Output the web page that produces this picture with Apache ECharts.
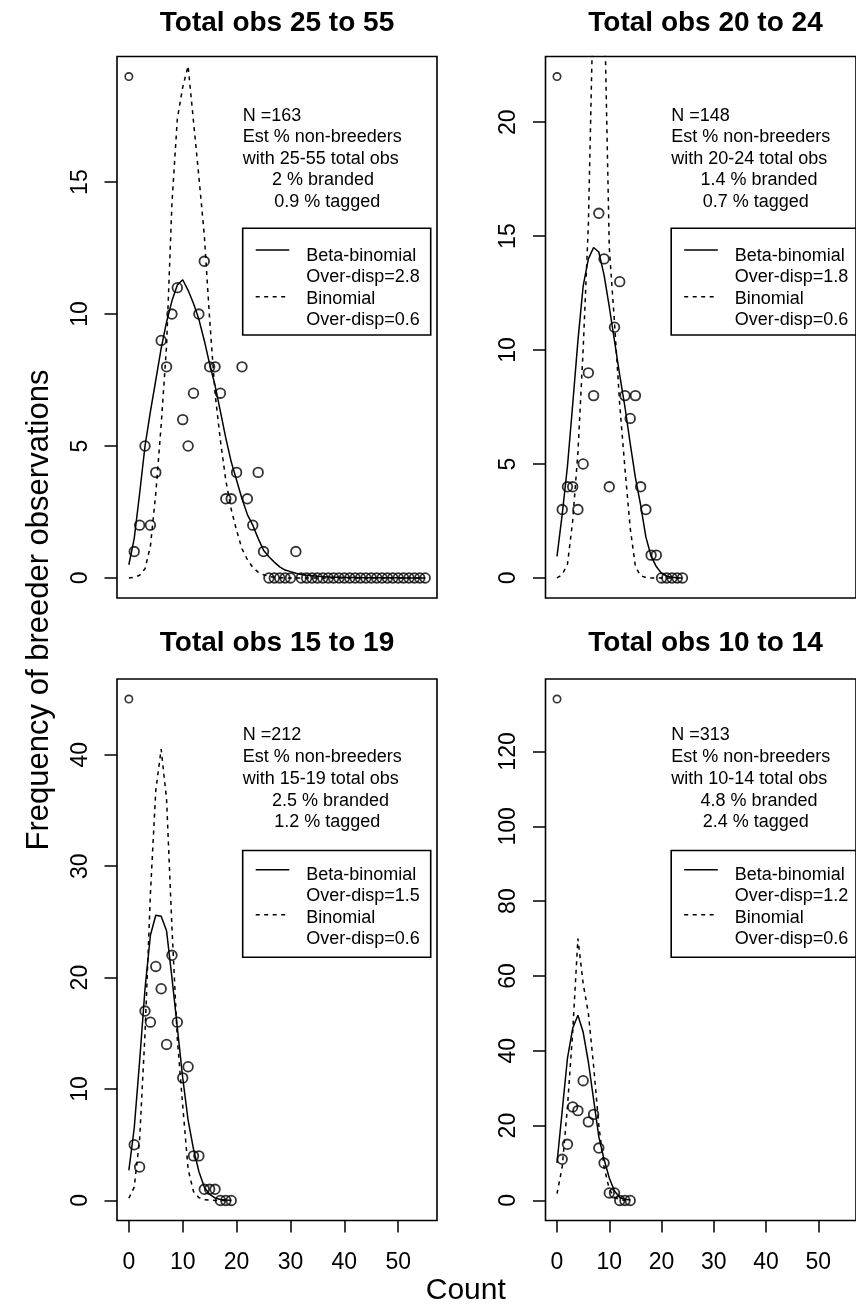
<!DOCTYPE html>
<html>
<head>
<meta charset="utf-8">
<title>Frequency of breeder observations</title>
<script src="https://cdn.jsdelivr.net/npm/echarts@6/dist/echarts.min.js"></script>
<style>
  html, body { margin: 0; padding: 0; background: #fff; }
  #chart { width: 856px; height: 1305px; }
</style>
</head>
<body>
<div id="chart"></div>
<script>
// --- data: index = count (0..max) ---
const panelTitles = ["Total obs 25 to 55", "Total obs 20 to 24", "Total obs 15 to 19", "Total obs 10 to 14"];

const counts25to55 = [19, 1, 2, 5, 2, 4, 9, 8, 10, 11, 6, 5, 7, 10, 12, 8, 8, 7, 3, 3, 4, 8, 3, 2, 4, 1, 0, 0, 0, 0,
  0, 1, 0, 0, 0, 0, 0, 0, 0, 0, 0, 0, 0, 0, 0, 0, 0, 0, 0, 0, 0, 0, 0, 0, 0, 0];
const betaBin25to55 = [0.5, 1.5, 3.2, 5.0, 6.3, 7.5, 8.7, 9.7, 10.5, 11.1, 11.3, 10.9, 10.4, 9.8, 9.0, 8.1, 7.3, 6.3, 5.3, 4.4,
  3.7, 3.0, 2.4, 2.0, 1.5, 1.05, 0.8, 0.6, 0.42, 0.3, 0.24, 0.18, 0.13, 0.1, 0.08, 0.06, 0.05, 0.04, 0.03, 0.03,
  0.02, 0.02, 0.02, 0.01, 0.01, 0.01, 0.01, 0.01, 0.01, 0.01, 0.01, 0, 0, 0, 0, 0];
const binom25to55 = [0, 0.02, 0.1, 0.35, 1.2, 3.2, 5.8, 8.8, 14.2, 17.4, 18.6, 19.4, 17.3, 15.2, 13.0, 9.8, 7.0, 5.2, 3.7, 2.6,
  1.8, 1.1, 0.7, 0.4, 0.22, 0.12, 0.06, 0.03, 0.01, 0, 0, 0, 0, 0, 0, 0, 0, 0, 0, 0,
  0, 0, 0, 0, 0, 0, 0, 0, 0, 0, 0, 0, 0, 0, 0, 0];

const counts20to24 = [22, 3, 4, 4, 3, 5, 9, 8, 16, 14, 4, 11, 13, 8, 7, 8, 4, 3, 1, 1, 0, 0, 0, 0, 0];
const betaBin20to24 = [0.95, 2.8, 4.9, 7.6, 10.4, 12.8, 14.0, 14.5, 14.3, 13.3, 11.9, 10.4, 8.9, 7.5, 5.9, 4.4, 3.2, 1.8, 0.95, 0.5,
  0.2, 0.08, 0.03, 0.01, 0];
const binom20to24 = [0, 0.15, 0.6, 2.5, 5.5, 10, 15.5, 26, 28, 26, 14.5, 11.2, 7.6, 4.8, 2.2, 0.5, 0.1, 0.02, 0, 0,
  0, 0, 0, 0, 0];

const counts15to19 = [45, 5, 3, 17, 16, 21, 19, 14, 22, 16, 11, 12, 4, 4, 1, 1, 1, 0, 0, 0];
const betaBin15to19 = [2.7, 6.5, 12.5, 19.0, 23.8, 25.6, 25.5, 24.2, 20.0, 15.5, 11.0, 7.2, 4.6, 2.6, 1.2, 0.55, 0.22, 0.08, 0.03, 0.01];
const binom15to19 = [0.2, 1.2, 5.5, 15, 27.5, 36.8, 40.5, 36, 24.5, 14.5, 8.5, 2.8, 0.8, 0.25, 0.07, 0.02, 0, 0, 0, 0];

const counts10to14 = [134, 11, 15, 25, 24, 32, 21, 23, 14, 10, 2, 2, 0, 0, 0];
const betaBin10to14 = [10, 24, 38, 46, 49.5, 45, 37, 27, 17, 11, 6, 2.5, 0.8, 0.3, 0.1];
const binom10to14 = [1.8, 9, 25, 45, 70, 58, 50, 36, 20, 9, 3, 0.8, 0.2, 0.05, 0];

const xTicks = [0, 10, 20, 30, 40, 50];
const yTicks25to55 = [0, 5, 10, 15];
const yTicks20to24 = [0, 5, 10, 15, 20];
const yTicks15to19 = [0, 10, 20, 30, 40];
const yTicks10to14 = [0, 20, 40, 60, 80, 100, 120];

const sampleN = [163, 148, 212, 313];
const obsRange = ["25-55", "20-24", "15-19", "10-14"];
const pctBranded = [2, 1.4, 2.5, 4.8];
const pctTagged = [0.9, 0.7, 1.2, 2.4];
const overDispBB = [2.8, 1.8, 1.5, 1.2];
const overDispBin = [0.6, 0.6, 0.6, 0.6];

const countsAll = [counts25to55, counts20to24, counts15to19, counts10to14];
const betaBinAll = [betaBin25to55, betaBin20to24, betaBin15to19, betaBin10to14];
const binomAll = [binom25to55, binom20to24, binom15to19, binom10to14];
const yTicksAll = [yTicks25to55, yTicks20to24, yTicks15to19, yTicks10to14];

// --- layout (R style: plot region + 4% axis padding) ---
const FONT = '"Liberation Sans", Arial, Helvetica, sans-serif';
const X_LIM = [0, 55];
const COL_LEFT = [117, 545.5];
const ROW_TOP = [56.5, 679];
const PLOT_W = 320, PLOT_H = 541.5;
// per-row offsets of the note text and legend box (relative to plot top)
const ROW_NOTE = [{ title: 23.3, n: 59.5, step: 21.5, box: 171.8, txt: [27.7, 49.2, 70.7, 92.2], ln: [21.7, 68.4] },
                  { title: 643, n: 56.2, step: 21.8, box: 171.5, txt: [24.3, 45.8, 67.3, 88.8], ln: [19.3, 64.3] }];

function pad(lo, hi) { const d = (hi - lo) * 0.04; return [lo - d, hi + d]; }

const grids = [], xAxes = [], yAxes = [], series = [], graphics = [];
const txt = (text, x, y, size, extra) => Object.assign({
  type: 'text', silent: true,
  style: { text, x, y, font: `${size}px ${FONT}`, fill: '#000',
    align: 'left', verticalAlign: 'middle', textAlign: 'left', textVerticalAlign: 'middle' }
}, extra || {});

countsAll.forEach((counts, i) => {
  const col = i % 2, row = Math.floor(i / 2);
  const left = COL_LEFT[col], top = ROW_TOP[row];
  const bottomRow = row === 1;
  const yLim = pad(0, Math.max(...counts));
  const xLim = pad(X_LIM[0], X_LIM[1]);

  grids.push({ left, top, width: PLOT_W, height: PLOT_H, show: true,
    borderColor: '#000', borderWidth: 1.6, backgroundColor: 'transparent' });

  xAxes.push({
    gridIndex: i, type: 'value', min: xLim[0], max: xLim[1],
    axisLine: { show: false, onZero: false }, splitLine: { show: false },
    axisTick: { show: bottomRow, length: 12, customValues: xTicks, lineStyle: { color: '#000', width: 1.5 } },
    axisLabel: { show: bottomRow, customValues: xTicks, margin: 31, fontSize: 23, fontFamily: FONT, color: '#000' }
  });
  yAxes.push({
    gridIndex: i, type: 'value', min: yLim[0], max: yLim[1],
    axisLine: { show: false, onZero: false }, splitLine: { show: false },
    axisTick: { length: 12.5, customValues: yTicksAll[i], lineStyle: { color: '#000', width: 1.5 } },
    axisLabel: { rotate: 90, margin: 25, customValues: yTicksAll[i], fontSize: 23, fontFamily: FONT, color: '#000' }
  });

  const pts = counts.map((v, k) => [k, v]);
  const common = { xAxisIndex: i, yAxisIndex: i, silent: true, animation: false };
  series.push(Object.assign({ type: 'line', data: betaBinAll[i].map((v, k) => [k, v]), showSymbol: false, symbol: 'none',
    lineStyle: { color: '#000', width: 1.5, type: 'solid' }, clip: true }, common));
  series.push(Object.assign({ type: 'line', data: binomAll[i].map((v, k) => [k, v]), showSymbol: false, symbol: 'none',
    lineStyle: { color: '#000', width: 1.5, type: [4, 4.5] }, clip: true }, common));
  series.push(Object.assign({ type: 'scatter', data: pts.slice(1), symbol: 'circle', symbolSize: 9.6,
    itemStyle: { color: 'rgba(0,0,0,0)', borderColor: '#000', borderWidth: 1.8 } }, common));
  series.push(Object.assign({ type: 'scatter', data: pts.slice(0, 1), symbol: 'circle', symbolSize: 7.4,
    itemStyle: { color: 'rgba(0,0,0,0)', borderColor: '#000', borderWidth: 1.6 } }, common));

  // panel title
  graphics.push({ type: 'text', silent: true, style: { text: panelTitles[i], x: left + PLOT_W / 2, y: ROW_NOTE[row].title,
    font: `bold 28px ${FONT}`, fill: '#000', align: 'center', verticalAlign: 'middle', textAlign: 'center', textVerticalAlign: 'middle' } });

  // notes
  const rn = ROW_NOTE[row];
  const notes = [`N =${sampleN[i]}`, 'Est % non-breeders', `with ${obsRange[i]} total obs`,
    `${pctBranded[i]} % branded`, `${pctTagged[i]} % tagged`];
  const noteX = [125.7, 125.7, 125.7, 155, 157.3];
  notes.forEach((s, k) => graphics.push(txt(s, left + noteX[k], top + rn.n + k * rn.step, 18)));

  // legend box
  const bx = left + 125.7, by = top + rn.box;
  graphics.push({ type: 'rect', silent: true, shape: { x: bx, y: by, width: 188, height: 106.7 },
    style: { fill: 'none', stroke: '#000', lineWidth: 1.6 } });
  graphics.push({ type: 'line', silent: true, shape: { x1: bx + 13, y1: by + rn.ln[0], x2: bx + 46.6, y2: by + rn.ln[0] },
    style: { stroke: '#000', lineWidth: 1.5 } });
  graphics.push({ type: 'line', silent: true, shape: { x1: bx + 13, y1: by + rn.ln[1], x2: bx + 46.6, y2: by + rn.ln[1] },
    style: { stroke: '#000', lineWidth: 1.5, lineDash: [4, 4.5] } });
  const legendText = ['Beta-binomial', `Over-disp=${overDispBB[i]}`, 'Binomial', `Over-disp=${overDispBin[i]}`];
  legendText.forEach((s, k) => graphics.push(txt(s, bx + 63.5, by + rn.txt[k], 18)));
});

// outer axis titles
graphics.push({ type: 'text', silent: true, x: 39.5, y: 610, rotation: Math.PI / 2,
  style: { text: 'Frequency of breeder observations', x: 0, y: 0, font: `31px ${FONT}`, fill: '#000',
    align: 'center', verticalAlign: 'middle', textAlign: 'center', textVerticalAlign: 'middle' } });
graphics.push({ type: 'text', silent: true,
  style: { text: 'Count', x: 465.8, y: 1290.8, font: `30px ${FONT}`, fill: '#000',
    align: 'center', verticalAlign: 'middle', textAlign: 'center', textVerticalAlign: 'middle' } });

const chart = echarts.init(document.getElementById('chart'), null, { renderer: 'canvas' });
chart.setOption({
  animation: false,
  backgroundColor: '#fff',
  grid: grids,
  xAxis: xAxes,
  yAxis: yAxes,
  series,
  graphic: { elements: graphics }
});
</script>
</body>
</html>
